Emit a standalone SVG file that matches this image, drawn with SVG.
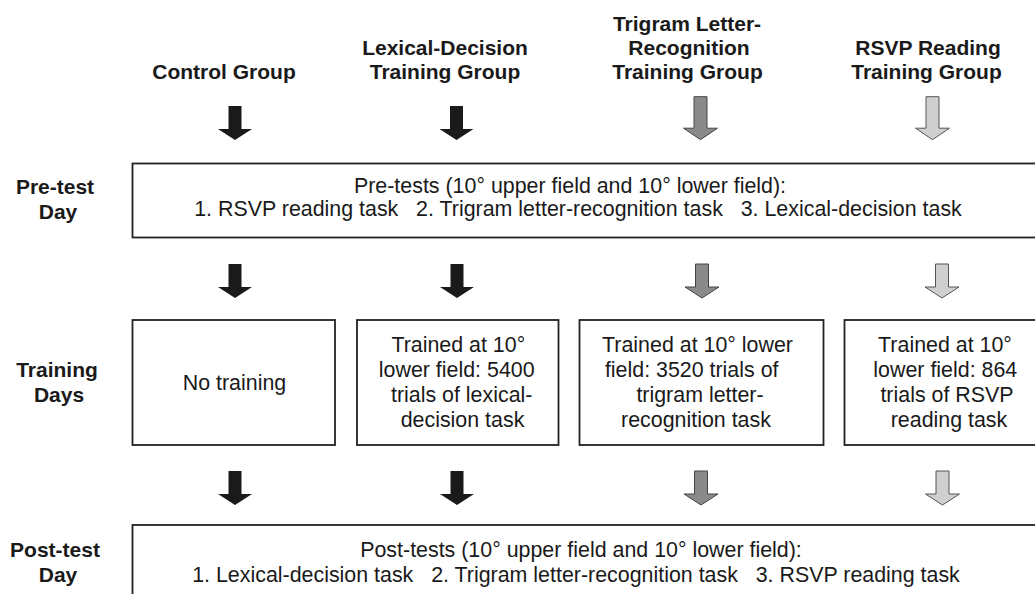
<svg xmlns="http://www.w3.org/2000/svg" xmlns:xlink="http://www.w3.org/1999/xlink" width="1035" height="594" viewBox="0 0 1035 594">
<style>
.hd{font-family:"Liberation Sans",Arial,sans-serif;font-size:21px;font-weight:bold;fill:#1a1a1a;text-anchor:middle}
.tx{font-family:"Liberation Sans",Arial,sans-serif;font-size:21.4px;fill:#1a1a1a;text-anchor:middle}
.box{fill:#fff;stroke:#222;stroke-width:1.8}
.ab{fill:#1a1a1a}
.ag{fill:#8a8a8a;stroke:#444;stroke-width:1}
.al{fill:#cfcfcf;stroke:#555;stroke-width:1}
</style>
<defs>
<path id="arr" d="M-6.5,0 H6.5 V23 H17 L0,34 L-17,23 H-6.5 Z"/>
<path id="arrT" d="M-6.5,0 H6.5 V31.5 H17 L0,43 L-17,31.5 H-6.5 Z"/>
</defs>
<rect width="1035" height="594" fill="#fff"/>

<g id="headers">
<text class="hd" x="224" y="79">Control Group</text>
<text class="hd" x="445" y="55">Lexical-Decision</text>
<text class="hd" x="445" y="79">Training Group</text>
<text class="hd" x="687" y="31">Trigram Letter-</text>
<text class="hd" x="689" y="55">Recognition</text>
<text class="hd" x="687.5" y="79">Training Group</text>
<text class="hd" x="928" y="55">RSVP Reading</text>
<text class="hd" x="926.5" y="79">Training Group</text>
</g>

<g id="row-labels">
<text class="hd" x="55" y="194">Pre-test</text>
<text class="hd" x="58" y="219">Day</text>
<text class="hd" x="57" y="377">Training</text>
<text class="hd" x="59" y="402">Days</text>
<text class="hd" x="55" y="557">Post-test</text>
<text class="hd" x="58" y="582">Day</text>
</g>

<g id="pretest">
<rect class="box" x="132.5" y="163.5" width="910" height="74"/>
<text class="tx" x="570" y="193">Pre-tests (10° upper field and 10° lower field):</text>
<text class="tx" x="578" y="216" xml:space="preserve">1. RSVP reading task   2. Trigram letter-recognition task   3. Lexical-decision task</text>
</g>

<g id="train-control">
<rect class="box" x="132.5" y="320" width="202.5" height="125"/>
<text class="tx" x="234.5" y="390">No training</text>
</g>

<g id="train-lexical">
<rect class="box" x="357" y="320" width="201.5" height="125"/>
<text class="tx" x="458.3" y="352">Trained at 10°</text>
<text class="tx" x="456.7" y="377">lower field: 5400</text>
<text class="tx" x="461.7" y="402">trials of lexical-</text>
<text class="tx" x="462.5" y="427">decision task</text>
</g>

<g id="train-trigram">
<rect class="box" x="579.5" y="320" width="244" height="125"/>
<text class="tx" x="697.5" y="352">Trained at 10° lower</text>
<text class="tx" x="691.7" y="377">field: 3520 trials of</text>
<text class="tx" x="700" y="402">trigram letter-</text>
<text class="tx" x="696" y="427">recognition task</text>
</g>

<g id="train-rsvp">
<rect class="box" x="844.5" y="320" width="200" height="125"/>
<text class="tx" x="945" y="352">Trained at 10°</text>
<text class="tx" x="945.3" y="377">lower field: 864</text>
<text class="tx" x="947" y="402">trials of RSVP</text>
<text class="tx" x="949" y="427">reading task</text>
</g>

<g id="posttest">
<rect class="box" x="132.5" y="525" width="910" height="80"/>
<text class="tx" x="581" y="557">Post-tests (10° upper field and 10° lower field):</text>
<text class="tx" x="576" y="582" xml:space="preserve">1. Lexical-decision task   2. Trigram letter-recognition task   3. RSVP reading task</text>
</g>

<g id="connectors">
<use xlink:href="#arr" class="ab" x="235" y="106"/>
<use xlink:href="#arr" class="ab" x="456.5" y="106"/>
<use xlink:href="#arrT" class="ag" x="700.5" y="96.7"/>
<use xlink:href="#arrT" class="al" x="932.5" y="96.7"/>

<use xlink:href="#arr" class="ab" x="235" y="264"/>
<use xlink:href="#arr" class="ab" x="457" y="264"/>
<use xlink:href="#arr" class="ag" x="702" y="264"/>
<use xlink:href="#arr" class="al" x="942" y="264"/>

<use xlink:href="#arr" class="ab" x="235" y="471"/>
<use xlink:href="#arr" class="ab" x="457" y="471"/>
<use xlink:href="#arr" class="ag" x="701" y="471"/>
<use xlink:href="#arr" class="al" x="942.5" y="471"/>
</g>
</svg>
